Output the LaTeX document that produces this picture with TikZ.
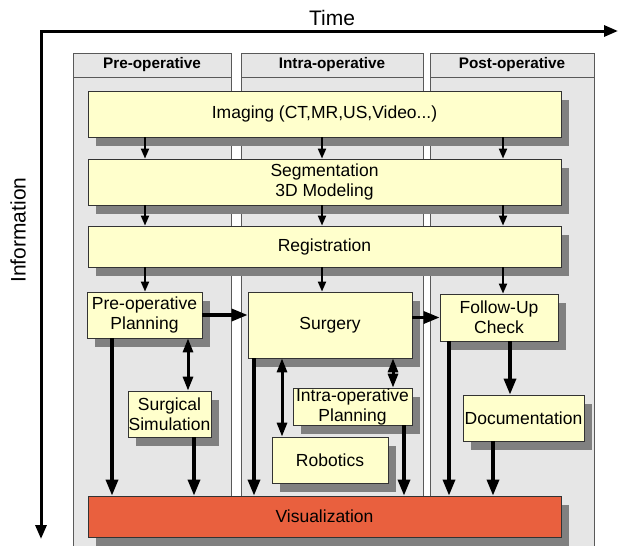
\documentclass[tikz,border=0pt]{standalone}
\usepackage{fontspec}
\setmainfont{Liberation Sans}
\usetikzlibrary{arrows.meta,shadows}
\definecolor{boxyellow}{RGB}{255,255,204}
\definecolor{visred}{RGB}{233,96,62}
\definecolor{panelgray}{RGB}{230,230,230}
\tikzstyle{box}=[rectangle,draw=black!80,fill=boxyellow,line width=0.8pt,
                 inner sep=0pt,align=center,font=\fontsize{17.5}{20}\selectfont,
                 drop shadow={shadow xshift=8pt,shadow yshift=-9pt,
                              fill=black!50,opacity=1}]
\tikzstyle{header}=[rectangle,draw=black!65,fill=panelgray,line width=0.8pt,
                    minimum height=24pt,inner sep=0pt,
                    font=\fontsize{15.3}{18}\selectfont\bfseries]
\tikzstyle{panel}=[draw=black!65,fill=panelgray,line width=0.8pt]
\tikzstyle{thin arrow}=[-{Triangle[length=10pt,width=8pt]},line width=2pt]
\tikzstyle{thick arrow}=[-{Triangle[length=16pt,width=12pt]},line width=3.3pt]
\tikzstyle{both arrow}=[{Triangle[length=14pt,width=10pt]}-{Triangle[length=14pt,width=10pt]},
                        line width=3pt]

\begin{document}
\begin{tikzpicture}[x=1pt,y=-1pt]
    \newcommand{\fullw}{473pt}
    \useasboundingbox (0,0) rectangle (619,546);
    \clip (0,0) rectangle (619,546);
    % phases
    \draw[panel] ( 73,77) rectangle (231,560);
    \draw[panel] (241,77) rectangle (423,560);
    \draw[panel] (430,77) rectangle (594,560);
    \node (hpre)   at (152,65) [header,minimum width=158pt]{Pre-operative};
    \node (hintra) at (332,65) [header,minimum width=182pt]{Intra-operative};
    \node (hpost)  at (512,65) [header,minimum width=164pt]{Post-operative};
    % axes
    \coordinate (origin) at ( 41, 31);
    \coordinate (tend)   at (618, 31);
    \coordinate (iend)   at ( 41,539);
    \draw[{Triangle[length=14pt,width=11pt]}-{Triangle[length=14pt,width=11pt]},
          line width=3pt] (tend) -- (origin) -- (iend);
    \node (time) at (332,18) [font=\fontsize{21}{25}\selectfont]{Time};
    \node (info) at ( 18,230) [rotate=90,font=\fontsize{21}{25}\selectfont]{Information};
    % boxes
    \node (img)     at (324.5,114)   [box,minimum width=\fullw,minimum height=46pt]{Imaging (CT,MR,US,Video...)};
    \node (seg)     at (324.5,182)   [box,minimum width=\fullw,minimum height=46pt]{Segmentation\\3D Modeling};
    \node (reg)     at (324.5,246.5) [box,minimum width=\fullw,minimum height=41pt]{Registration};
    \node (preplan) at (144.5,315)   [box,minimum width=115pt,minimum height=46pt]{Pre-operative\\Planning};
    \node (surg)    at (330,325)     [box,minimum width=164pt,minimum height=66pt]{Surgery};
    \node (follow)  at (499,317.5)   [box,minimum width=118pt,minimum height=47pt]{Follow-Up\\Check};
    \node (sim)     at (169.5,414)   [box,minimum width=83pt,minimum height=46pt]{Surgical\\Simulation};
    \node (iplan)   at (352.5,406.5) [box,minimum width=119pt,minimum height=37pt]{Intra-operative\\Planning};
    \node (robot)   at (330,460)     [box,minimum width=116pt,minimum height=46pt]{Robotics};
    \node (doc)     at (523.5,418)   [box,minimum width=121pt,minimum height=46pt]{Documentation};
    \node (vis)     at (324.5,516.5) [box,fill=visred,minimum width=\fullw,minimum height=41pt]{Visualization};
    % columns of the arrows
    \coordinate (c1) at (145,0);
    \coordinate (c2) at (322,0);
    \coordinate (c3) at (503,0);
    \foreach \c in {c1,c2,c3} {
      \draw[thin arrow] (img.south -| \c) -- (seg.north -| \c);
      \draw[thin arrow] (seg.south -| \c) -- (reg.north -| \c);
    }
    \draw[thin arrow] (reg.south -| c1) -- (preplan.north -| c1);
    \draw[thin arrow] (reg.south -| c2) -- (surg.north -| c2);
    \draw[thin arrow] (reg.south -| c3) -- (follow.north -| c3);
    % flow
    \draw[thick arrow] (preplan.east) -- (surg.west |- preplan.east);
    \draw[thick arrow] (surg.east |- follow.west) -- (follow.west);
    \coordinate (xsim)   at (188,0);
    \coordinate (xrobot) at (282,0);
    \coordinate (xiplan) at (393,0);
    \coordinate (xdoc)   at (510,0);
    \draw[both arrow] (preplan.south -| xsim) -- (sim.north -| xsim);
    \draw[both arrow] (surg.south -| xrobot) -- (robot.north -| xrobot);
    \draw[both arrow] (surg.south -| xiplan) -- (iplan.north -| xiplan);
    \draw[thick arrow] (follow.south -| xdoc) -- (doc.north -| xdoc);
    % down to visualization
    \foreach \n/\x in {preplan/112,sim/194,surg/254,iplan/404,follow/449,doc/493} {
      \coordinate (v\n) at (\x,0);
      \draw[thick arrow] (\n.south -| v\n) -- (vis.north -| v\n);
    }
  \end{tikzpicture}
\end{document}
